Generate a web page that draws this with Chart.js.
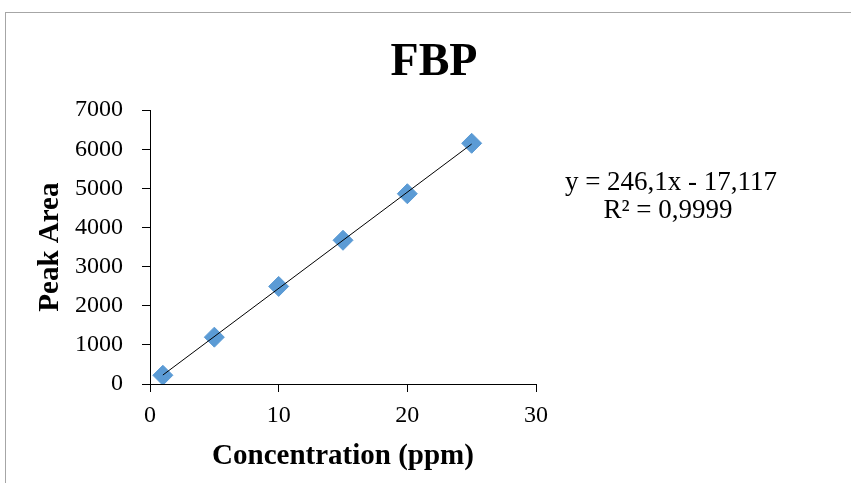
<!DOCTYPE html>
<html>
<head>
<meta charset="utf-8">
<script src="https://cdn.jsdelivr.net/npm/chart.js@4.4.0/dist/chart.umd.min.js"></script>
<style>
  html, body { margin: 0; padding: 0; background: #fff; }
  canvas { display: block; }
</style>
</head>
<body>
<canvas id="fbpChart" width="851" height="483"></canvas>
<script>
// Dados
const concentration = [1, 5, 10, 15, 20, 25];
const peakArea = [223, 1197, 2495, 3675, 4864, 6154];

// Linha de tendência (extremos)
const trendX = [1, 25];
const trendY = [229, 6135];
const equationLines = ['y = 246,1x - 17,117', 'R\u00b2 = 0,9999'];

// Eixos
const xTicks = [0, 10, 20, 30];
const yTicks = [0, 1000, 2000, 3000, 4000, 5000, 6000, 7000];

const serif = "'Liberation Serif', 'Times New Roman', serif";

// Moldura cinza e texto da equação
const framePlugin = {
    id: 'frame',
    beforeDraw(chart) {
        const ctx = chart.ctx;
        ctx.save();
        ctx.fillStyle = '#fff';
        ctx.fillRect(0, 0, chart.width, chart.height);
        ctx.strokeStyle = '#a6a6a6';
        ctx.lineWidth = 1;
        ctx.strokeRect(5.5, 12.5, chart.width + 20, chart.height + 20);
        ctx.restore();
    },
    afterDraw(chart) {
        const ctx = chart.ctx;
        const area = chart.chartArea;
        ctx.save();
        ctx.font = '27px ' + serif;
        ctx.fillStyle = '#000';
        ctx.textAlign = 'center';
        ctx.textBaseline = 'middle';
        const cx = area.right + 135;
        ctx.fillText(equationLines[0], cx, area.top + 73);
        ctx.fillText(equationLines[1], cx - 3, area.top + 101);
        ctx.restore();
    }
};

const ctx = document.getElementById('fbpChart').getContext('2d');

new Chart(ctx, {
    type: 'scatter',
    data: {
        datasets: [
            {
                type: 'line',
                label: 'Tendência',
                data: trendX.map((x, i) => ({ x: x, y: trendY[i] })),
                borderColor: '#000',
                borderWidth: 1,
                pointRadius: 0,
                fill: false,
                order: 0
            },
            {
                label: 'FBP',
                data: concentration.map((x, i) => ({ x: x, y: peakArea[i] })),
                pointStyle: 'rectRot',
                pointRadius: 10,
                backgroundColor: '#5b9bd5',
                borderColor: '#5b9bd5',
                borderWidth: 1,
                order: 1
            }
        ]
    },
    options: {
        responsive: false,
        animation: false,
        devicePixelRatio: 1,
        layout: {
            padding: { left: 17, right: 0, top: 0, bottom: 0 }
        },
        plugins: {
            legend: { display: false },
            tooltip: { enabled: false },
            title: {
                display: true,
                text: 'FBP',
                color: '#000',
                font: { family: serif, size: 46, weight: 'bold', lineHeight: 1.2 },
                padding: { top: 36, bottom: 19 }
            }
        },
        scales: {
            x: {
                type: 'linear',
                position: 'bottom',
                min: xTicks[0],
                max: xTicks[xTicks.length - 1],
                afterBuildTicks: (scale) => { scale.ticks = xTicks.map(v => ({ value: v })); },
                afterFit: (scale) => { scale.height = 99; },
                grid: { drawOnChartArea: false, drawTicks: true, tickLength: 8, color: '#000' },
                border: { display: true, color: '#000', width: 1 },
                ticks: {
                    color: '#000',
                    padding: 9,
                    maxRotation: 0,
                    font: { family: serif, size: 24 },
                    callback: (value) => String(value)
                },
                title: {
                    display: true,
                    text: 'Concentration (ppm)',
                    color: '#000',
                    font: { family: serif, size: 29, weight: 'bold', lineHeight: 1.2 },
                    padding: { top: 4, bottom: 9 }
                }
            },
            y: {
                type: 'linear',
                position: 'left',
                min: yTicks[0],
                max: yTicks[yTicks.length - 1],
                afterBuildTicks: (scale) => { scale.ticks = yTicks.map(v => ({ value: v })); },
                afterFit: (scale) => { scale.width = 133; },
                grid: { drawOnChartArea: false, drawTicks: true, tickLength: 8, color: '#000' },
                border: { display: true, color: '#000', width: 1 },
                ticks: {
                    color: '#000',
                    padding: 19,
                    font: { family: serif, size: 24 },
                    callback: (value) => String(value)
                },
                title: {
                    display: true,
                    text: 'Peak Area',
                    color: '#000',
                    font: { family: serif, size: 29, weight: 'bold', lineHeight: 1.2 },
                    padding: { top: 16, bottom: 4 }
                }
            },
            // eixo vazio à direita: reserva o espaço da equação
            yRight: {
                type: 'linear',
                position: 'right',
                display: true,
                grid: { display: false },
                border: { display: false },
                ticks: { display: false },
                afterFit: (scale) => { scale.width = 315; }
            }
        }
    },
    plugins: [framePlugin]
});
</script>
</body>
</html>
